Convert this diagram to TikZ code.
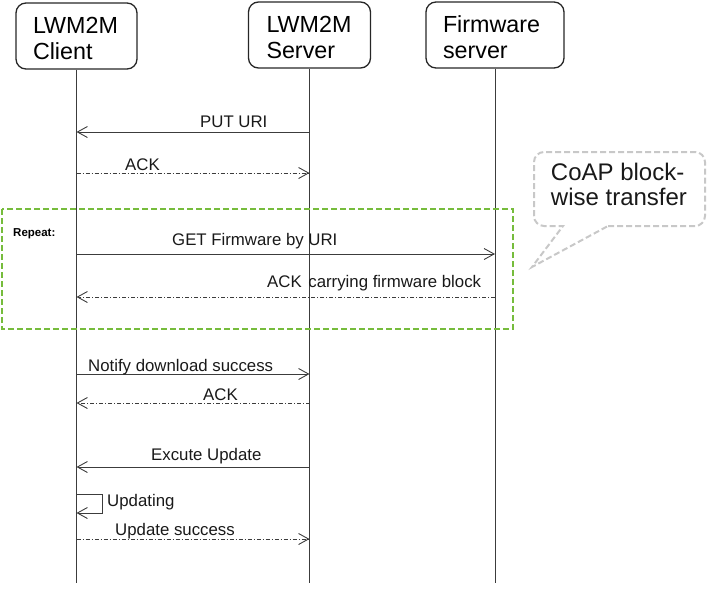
\documentclass[tikz,border=0pt]{standalone}
\usepackage{fontspec}
\setmainfont{Liberation Sans}
\usetikzlibrary{arrows.meta}
\definecolor{linec}{RGB}{60,60,60}
\definecolor{grn}{RGB}{118,188,60}
\definecolor{callg}{RGB}{200,200,200}
\newcommand{\upstrut}{\rule{0pt}{22pt}}
\begin{document}
\begin{tikzpicture}[x=1pt,y=-1pt,
  actor/.style={draw=black!85, line width=1.3pt, rounded corners=10pt, minimum height=66pt, align=left, font=\fontsize{23.3}{26}\selectfont, inner ysep=0pt},
  life/.style={draw=linec, line width=1pt},
  msg/.style={draw=linec, line width=0.9pt, -{Straight Barb[length=10pt,width=11pt]}},
  reply/.style={msg, dash pattern=on 4pt off 2pt on 1pt off 2pt},
  lbl/.style={font=\fontsize{16.8}{19}\selectfont, inner sep=0pt, anchor=base west, text=black!90},
  repeatbox/.style={draw=grn, line width=2.2pt, dash pattern=on 6pt off 3pt},
  callbox/.style={draw=callg, line width=2pt, dash pattern=on 6pt off 3pt}
]
\useasboundingbox (0,0) rectangle (710,600);

% actors
\node[actor, minimum width=121pt, text width=87pt, inner xsep=17pt] (cli) at (76.5,36) {\upstrut LWM2M\\Client};
\node[actor, minimum width=122pt, text width=86pt, inner xsep=18pt] (srv) at (309.5,35) {\upstrut LWM2M\\Server};
\node[actor, minimum width=138pt, text width=104pt, inner xsep=17pt] (fw) at (495,35) {\upstrut Firmware\\server};

% lifelines
\coordinate (bottom) at (0,583);
\draw[life] (cli.south) -- (cli.south |- bottom);
\draw[life] (srv.south) -- (srv.south |- bottom);
\draw[life] (fw.south) -- (fw.south |- bottom);

% PUT URI
\draw[msg] (srv.south |- 0,132) -- (cli.south |- 0,132);
\node[lbl] (l1) at (200,127) {PUT URI};
% ACK
\draw[reply] (cli.south |- 0,173) -- (srv.south |- 0,173);
\node[lbl] (l2) at (125,170) {ACK};

% repeat block
\draw[repeatbox] (2,209) rectangle (513,329);
\node[inner sep=0pt, anchor=base west, font=\fontsize{11.5}{14}\selectfont\bfseries] (rep) at (13,236) {Repeat:};
\draw[msg] (cli.south |- 0,254) -- (fw.south |- 0,254);
\node[lbl] (l3) at (172,245) {GET Firmware by URI};
\draw[reply] (fw.south |- 0,297) -- (cli.south |- 0,297);
\node[lbl] (l4) at (267,287) {ACK\hspace{2pt} carrying firmware block};

% callout
\draw[callbox] (608,226) [rounded corners=10pt] -- (705,226) -- (705,152) -- (534,152) -- (534,226) [sharp corners] -- (563,226) -- (532,267) -- cycle;
\node[inner sep=0pt, align=left, font=\fontsize{24}{25}\selectfont, text=black!90] (ctext) at (619,184) {CoAP block-\\wise transfer};

% Notify
\draw[msg] (cli.south |- 0,374) -- (srv.south |- 0,374);
\node[lbl] (l5) at (88,371) {Notify download success};
\draw[reply] (srv.south |- 0,403) -- (cli.south |- 0,403);
\node[lbl] (l6) at (203,400) {ACK};

% Execute
\draw[msg] (srv.south |- 0,467) -- (cli.south |- 0,467);
\node[lbl] (l7) at (151,460) {Excute Update};

% Updating self loop
\coordinate (lpA) at (102,494);
\coordinate (lpB) at (102,513);
\draw[msg] (cli.south |- lpA) -- (lpA) -- (lpB) -- (cli.south |- lpB);
\node[lbl] (l8) at (107,506) {Updating};

% Update success
\draw[reply] (cli.south |- 0,539) -- (srv.south |- 0,539);
\node[lbl] (l9) at (115,535) {Update success};
\end{tikzpicture}
\end{document}
